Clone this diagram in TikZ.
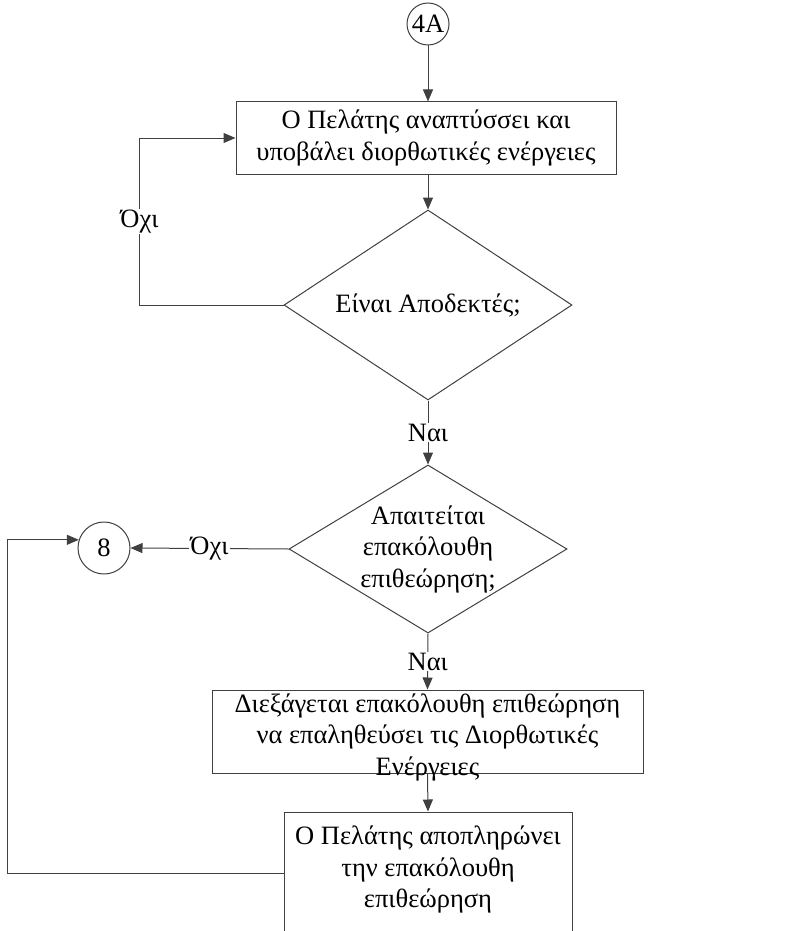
\documentclass[tikz,border=0pt]{standalone}
\usepackage{fontspec}
\setmainfont{Liberation Serif}
\usetikzlibrary{arrows.meta,shapes.geometric}

\begin{document}
\begin{tikzpicture}[x=1pt,y=-1pt,line width=1pt,
  font=\fontsize{26.5}{31.5}\selectfont,
  box/.style={draw=black!75,rectangle,inner sep=0pt},
  decision/.style={draw=black!75,diamond,inner sep=0pt},
  conn/.style={draw=black!75,circle,inner sep=0pt},
  arr/.style={draw=black!75,-{Triangle[length=12pt,width=10pt]}},
  lbl/.style={fill=white,inner sep=1pt}]
\useasboundingbox (0,0) rectangle (789,931);
\clip (0,0) rectangle (789,931);
\node[conn,minimum size=42pt] (c4a) at (428,24) {4A};
\node[box,minimum width=380pt,minimum height=72pt,align=center] (b1) at (426,138)
  {Ο Πελάτης αναπτύσσει και\\υποβάλει διορθωτικές ενέργειες};
\node[decision,minimum width=288pt,minimum height=190pt] (d1) at (428,305) {};
\node (t1) at (d1) {Είναι Αποδεκτές;};
\node[decision,minimum width=278pt,minimum height=168pt] (d2) at (428,549) {};
\node[align=center] (t2) at (d2) {Απαιτείται\\επακόλουθη\\επιθεώρηση;};
\node[conn,minimum size=52pt] (c8) at (104,548) {8};
\node[box,minimum width=431pt,minimum height=83pt] (b3) at (427.5,731.5) {};
\node[align=center] (t3) at (427.5,737)
  {Διεξάγεται επακόλουθη επιθεώρηση\\να επαληθεύσει τις Διορθωτικές\\Ενέργειες};
\node[box,minimum width=288pt,minimum height=122pt] (b4) at (428,873) {};
\node[align=center] (t4) at (428,869.5) {Ο Πελάτης αποπληρώνει\\την επακόλουθη\\επιθεώρηση};
\draw[arr] (c4a.south) -- (c4a.south |- b1.north);
\draw[arr] (d1.north |- b1.south) -- (d1.north);
\draw[arr] (d1.west) -- ++(-144,0) |- node[lbl,pos=0.25] (no1) {Όχι} (b1.west);
\draw[arr] (d1.south) -- node[lbl] (yes1) {Ναι} (d2.north);
\draw[arr] (d2.west) -- node[lbl] (no2) {Όχι} (c8.east);
\draw[arr] (d2.south) -- node[lbl] (yes2) {Ναι} (b3.north);
\draw[arr] (b3.south) -- (b4.north);
\draw[arr] (b4.west) -- ++(-276,0) |- (c8.162);
\end{tikzpicture}
\end{document}
